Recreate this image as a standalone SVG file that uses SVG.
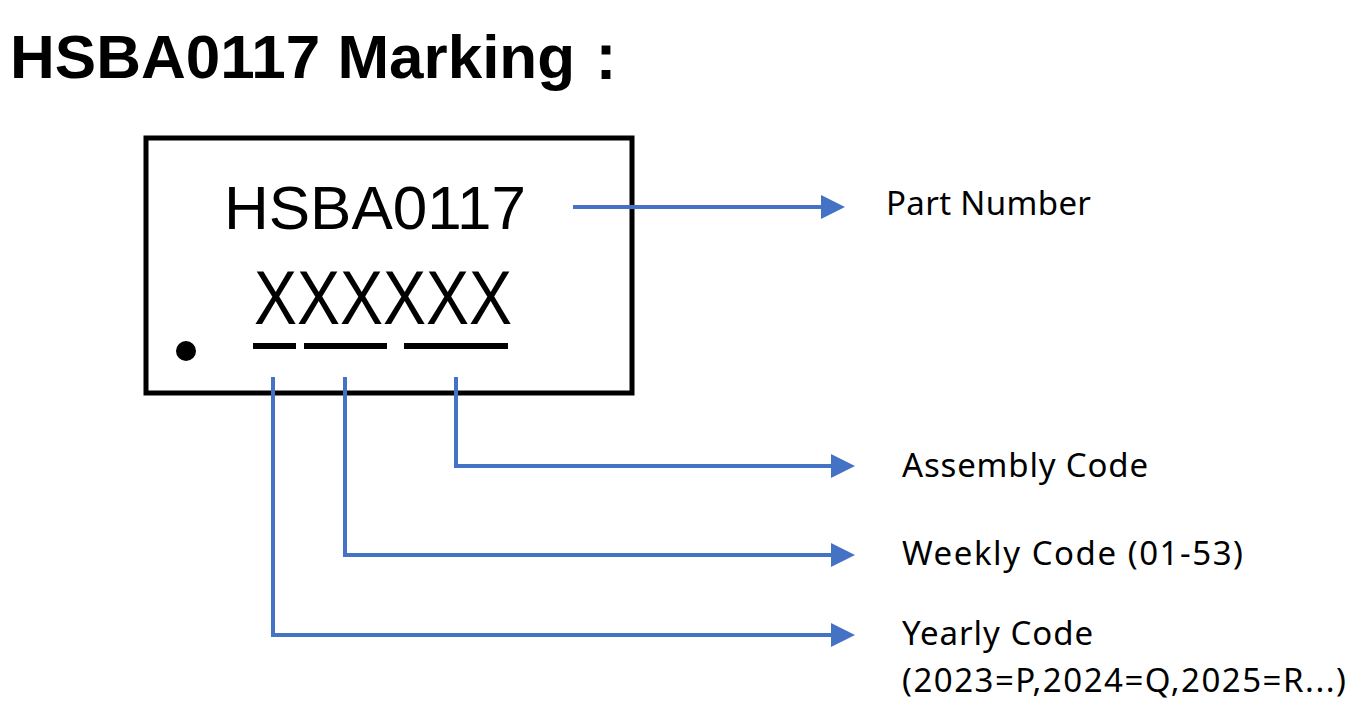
<svg xmlns="http://www.w3.org/2000/svg" width="1361" height="719" viewBox="0 0 1361 719">
<defs>
<marker id="ah" markerWidth="6" markerHeight="6" refX="5" refY="3" orient="auto" markerUnits="strokeWidth"><path d="M0,0 L6,3 L0,6 z" fill="#4472C4"/></marker>
<style>
.lbl{font-family:"Noto Sans","Liberation Sans",sans-serif;font-size:33px;fill:#000}
.con{fill:none;stroke:#4472C4;stroke-width:4;marker-end:url(#ah)}
</style>
</defs>
<rect width="1361" height="719" fill="#fff"/>
<text x="10" y="78" font-family="Liberation Sans, sans-serif" font-weight="bold" font-size="62">HSBA0117 Marking：</text>
<g id="chip">
<rect x="146" y="138" width="486" height="255" fill="none" stroke="#000" stroke-width="5"/>
<text x="375" y="229" text-anchor="middle" font-family="Liberation Sans, sans-serif" font-size="62">HSBA0117</text>
<text x="383" y="324" text-anchor="middle" font-family="Liberation Sans, sans-serif" font-size="76" textLength="258" lengthAdjust="spacingAndGlyphs">XXXXXX</text>
<g fill="#000"><rect x="253" y="343" width="43" height="6"/><rect x="304" y="343" width="83" height="6"/><rect x="404" y="343" width="104" height="6"/></g>
<circle cx="186" cy="351" r="10" fill="#000"/>
</g>
<g id="connectors">
<path class="con" d="M573,207 H841"/>
<path class="con" d="M456,377 V466 H851"/>
<path class="con" d="M345,377 V555 H851"/>
<path class="con" d="M273,377 V635 H851"/>
</g>
<g id="labels">
<text class="lbl" x="886" y="215" textLength="205">Part Number</text>
<text class="lbl" x="902" y="477" textLength="246">Assembly Code</text>
<text class="lbl" x="902" y="565" textLength="341">Weekly Code (01-53)</text>
<text class="lbl" x="902" y="645" textLength="191">Yearly Code</text>
<text class="lbl" x="902" y="692" textLength="444">(2023=P,2024=Q,2025=R...)</text>
</g>
</svg>
